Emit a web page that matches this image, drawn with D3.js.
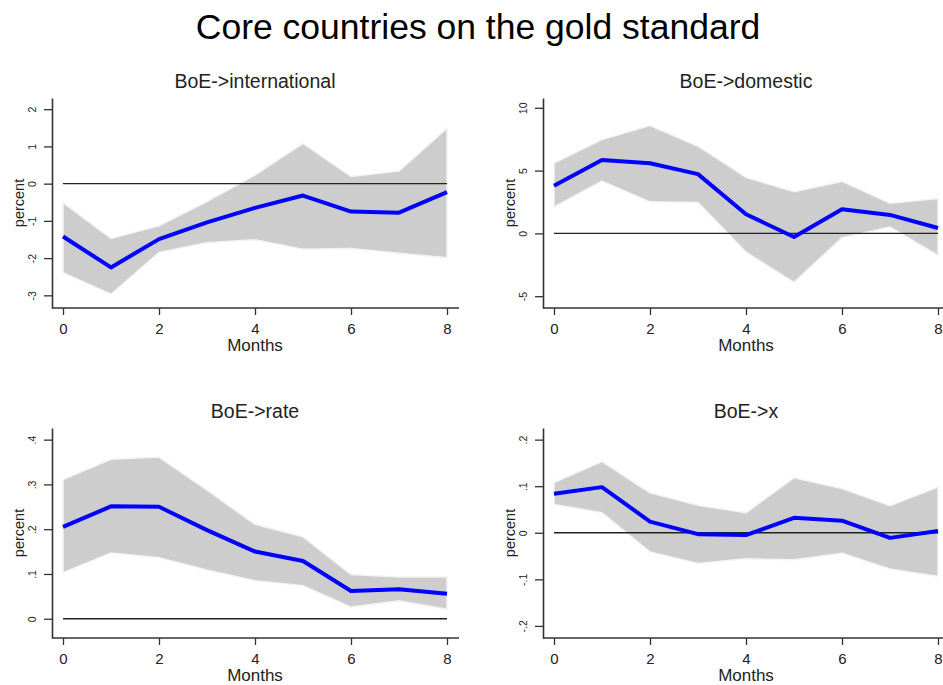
<!DOCTYPE html>
<html>
<head>
<title>Core countries on the gold standard</title>
<script src="https://d3js.org/d3.v7.min.js"></script>
<style>
    body { margin: 0; background: #fff; }
    svg { display: block; font-family: "Liberation Sans", Arial, sans-serif; }
</style>
</head>
<body>
<svg width="943" height="685"></svg>
<script>
// horizon in months
const months = [0, 1, 2, 3, 4, 5, 6, 7, 8];
const xTicks = [0, 2, 4, 6, 8];

const titles = ['BoE->international', 'BoE->domestic', 'BoE->rate', 'BoE->x'];

// impulse responses (mean) and bands
const intlMean  = [-1.42, -2.25, -1.49, -1.04, -0.65, -0.32, -0.75, -0.78, -0.23];
const intlUpper = [-0.51, -1.47, -1.13, -0.48, 0.23, 1.08, 0.19, 0.34, 1.49];
const intlLower = [-2.39, -2.97, -1.85, -1.59, -1.51, -1.76, -1.74, -1.87, -1.99];

const domMean  = [3.79, 5.84, 5.58, 4.72, 1.52, -0.29, 1.92, 1.47, 0.43];
const domUpper = [5.6, 7.47, 8.59, 6.94, 4.46, 3.31, 4.14, 2.4, 2.78];
const domLower = [2.1, 4.16, 2.51, 2.46, -1.49, -3.9, -0.35, 0.5, -1.76];

const rateMean  = [0.205, 0.251, 0.250, 0.198, 0.150, 0.129, 0.062, 0.066, 0.056];
const rateUpper = [0.311, 0.356, 0.361, 0.287, 0.211, 0.183, 0.099, 0.093, 0.093];
const rateLower = [0.103, 0.147, 0.136, 0.109, 0.085, 0.074, 0.026, 0.040, 0.021];

const xMean  = [0.084, 0.098, 0.024, -0.003, -0.005, 0.032, 0.026, -0.011, 0.004];
const xUpper = [0.108, 0.153, 0.086, 0.059, 0.043, 0.118, 0.095, 0.058, 0.098];
const xLower = [0.061, 0.043, -0.041, -0.066, -0.056, -0.058, -0.044, -0.078, -0.094];

// y tick values and their labels
const intlTicks = [-3, -2, -1, 0, 1, 2];
const intlLabels = ['-3', '-2', '-1', '0', '1', '2'];
const domTicks = [-5, 0, 5, 10];
const domLabels = ['-5', '0', '5', '10'];
const rateTicks = [0, 0.1, 0.2, 0.3, 0.4];
const rateLabels = ['0', '.1', '.2', '.3', '.4'];
const xvTicks = [-0.2, -0.1, 0, 0.1, 0.2];
const xvLabels = ['-.2', '-.1', '0', '.1', '.2'];

const panels = [
    {title: titles[0], mean: intlMean, upper: intlUpper, lower: intlLower, ticks: intlTicks, labels: intlLabels,
     domain: [-3.34, 2.3], left: 52, top: 98, x0: 63, x1: 447, axisEnd: 459},
    {title: titles[1], mean: domMean, upper: domUpper, lower: domLower, ticks: domTicks, labels: domLabels,
     domain: [-5.94, 10.78], left: 543, top: 98, x0: 554, x1: 938, axisEnd: 943},
    {title: titles[2], mean: rateMean, upper: rateUpper, lower: rateLower, ticks: rateTicks, labels: rateLabels,
     domain: [-0.043, 0.426], left: 52, top: 428, x0: 63, x1: 447, axisEnd: 459},
    {title: titles[3], mean: xMean, upper: xUpper, lower: xLower, ticks: xvTicks, labels: xvLabels,
     domain: [-0.226, 0.225], left: 543, top: 428, x0: 554, x1: 938, axisEnd: 943}
];
const plotH = 210;

let svg = d3.select('svg');

svg.append('text')
    .attr('x', 478).attr('y', 39)
    .attr('text-anchor', 'middle')
    .style('font-size', '35.5px')
    .text('Core countries on the gold standard');

panels.forEach(p => {
    let g = svg.append('g');
    let x = d3.scaleLinear().domain([0, 8]).range([p.x0, p.x1]);
    let y = d3.scaleLinear().domain(p.domain).range([p.top + plotH, p.top]);

    let area = d3.area()
        .x((d, i) => x(months[i]))
        .y0((d, i) => y(p.lower[i]))
        .y1((d, i) => y(p.upper[i]));
    g.append('path')
        .datum(p.mean)
        .attr('d', area)
        .attr('fill', '#cdcdcd')
        .attr('stroke', '#f4f4f4')
        .attr('stroke-width', 1.5);

    // zero line
    g.append('line')
        .attr('x1', x(0)).attr('x2', x(8))
        .attr('y1', y(0)).attr('y2', y(0))
        .attr('stroke', '#222').attr('stroke-width', 1.3);

    let line = d3.line()
        .x((d, i) => x(months[i]))
        .y(d => y(d));
    g.append('path')
        .datum(p.mean)
        .attr('d', line)
        .attr('fill', 'none')
        .attr('stroke', '#0000ff')
        .attr('stroke-width', 4)
        .attr('stroke-linejoin', 'round');

    // y axis
    let yAxis = g.append('g')
        .attr('transform', `translate(${p.left},0)`)
        .call(d3.axisLeft(y).tickValues(p.ticks).tickSize(8).tickSizeOuter(0)
            .tickFormat((d, i) => p.labels[i]));
    yAxis.select('.domain').attr('stroke', '#333').attr('stroke-width', 1.6);
    yAxis.selectAll('.tick line').attr('stroke', '#333').attr('stroke-width', 1.3);
    yAxis.selectAll('.tick text')
        .attr('x', null).attr('dy', null)
        .attr('text-anchor', 'middle')
        .attr('transform', 'translate(-16,0) rotate(-90)')
        .style('font-size', '10.5px')
        .attr('fill', '#222');

    // x axis
    let xAxis = g.append('g')
        .attr('transform', `translate(0,${p.top + plotH})`)
        .call(d3.axisBottom(x).tickValues(xTicks).tickSize(7).tickSizeOuter(0));
    xAxis.select('.domain')
        .attr('d', `M${p.left},0H${p.axisEnd}`)
        .attr('stroke', '#333').attr('stroke-width', 1.6);
    xAxis.selectAll('.tick line').attr('stroke', '#333').attr('stroke-width', 1.3);
    xAxis.selectAll('.tick text')
        .attr('y', 15)
        .style('font-size', '15px')
        .attr('fill', '#222');

    // labels
    g.append('text')
        .attr('x', x(4)).attr('y', p.top - 10)
        .attr('text-anchor', 'middle')
        .style('font-size', '19.5px')
        .attr('fill', '#222')
        .text(p.title);
    g.append('text')
        .attr('x', x(4)).attr('y', p.top + plotH + 43)
        .attr('text-anchor', 'middle')
        .style('font-size', '17px')
        .attr('fill', '#222')
        .text('Months');
    g.append('text')
        .attr('transform', `translate(${p.left - 28},${p.top + plotH / 2}) rotate(-90)`)
        .attr('text-anchor', 'middle')
        .style('font-size', '14.5px')
        .attr('fill', '#222')
        .text('percent');
});
</script>
</body>
</html>
